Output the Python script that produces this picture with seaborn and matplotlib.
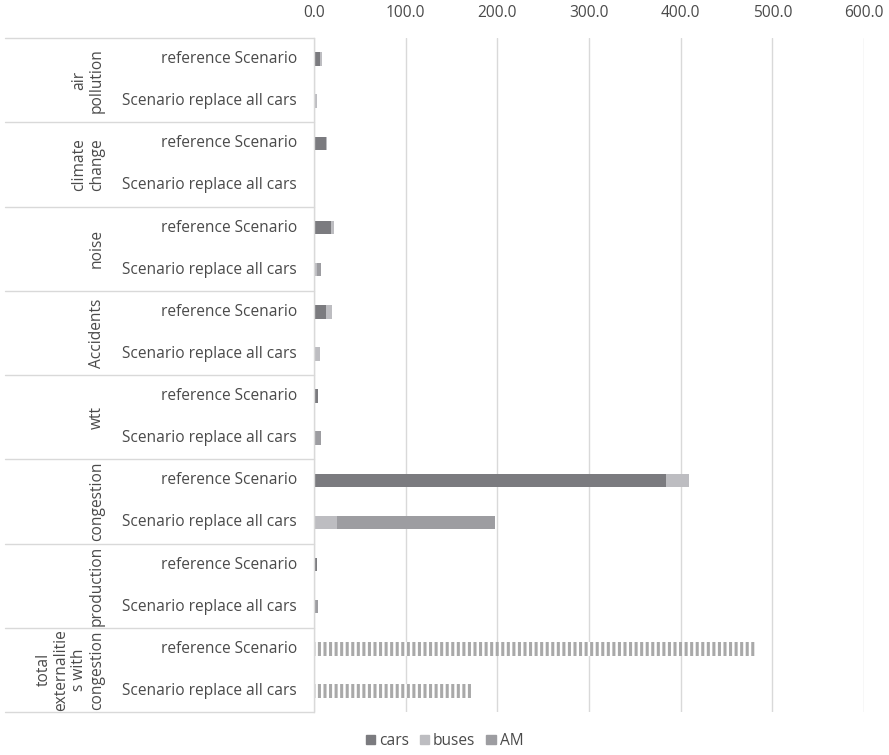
import matplotlib
matplotlib.use("Agg")
import matplotlib.pyplot as plt
import numpy as np
import pandas as pd
import seaborn as sns

# data
groups = ["air\npollution", "climate\nchange", "noise", "Accidents", "wtt",
          "congestion", "production", "total\nexternalitie\ns with\ncongestion"]
scenarios = ["reference Scenario", "Scenario replace all cars"]

cars_ref = [6.2, 12.7, 18.2, 12.7, 4.4, 383.5, 3.7, 0]
buses_ref = [2.5, 1.5, 3.6, 7.3, 0, 26.0, 0, 0]
am_ref = [0, 0, 0, 0, 0, 0, 0, 0]
cars_rep = [0, 0, 0, 0, 0, 0, 0, 0]
buses_rep = [3.7, 1.5, 3.0, 6.2, 0, 25.5, 0, 0]
am_rep = [0, 0, 4.3, 0, 8.0, 172.0, 4.8, 0]
total_ref = [0, 0, 0, 0, 0, 0, 0, 481.7]
total_rep = [0, 0, 0, 0, 0, 0, 0, 173.8]

x_ticks = [0, 100, 200, 300, 400, 500, 600]

c_cars = "#7b7b7f"
c_buses = "#bdbdc1"
c_am = "#9d9da1"
txt = "#4a4a4a"
grid = "#d9d9d9"


def build_frame():
    rows = []
    for i, g in enumerate(groups):
        for s, cars, buses, am, tot in [
            (scenarios[0], cars_ref[i], buses_ref[i], am_ref[i], total_ref[i]),
            (scenarios[1], cars_rep[i], buses_rep[i], am_rep[i], total_rep[i]),
        ]:
            rows.append({"key": f"{i}|{s}", "group": g, "scenario": s,
                         "cars": cars, "buses": buses, "AM": am, "total": tot})
    df = pd.DataFrame(rows)
    df["c1"] = df["cars"]
    df["c2"] = df["cars"] + df["buses"]
    df["c3"] = df["c2"] + df["AM"]
    return df


def main():
    df = build_frame()
    order = list(df["key"])

    sns.set_style("white")
    plt.rcParams["font.family"] = ["Open Sans", "DejaVu Sans"]
    fs = 11.2

    fig = plt.figure(figsize=(8.89, 7.55), dpi=100)
    W, H = 889, 755
    left, right, top, bottom = 314, 864, 38, 712
    ax = fig.add_axes([left / W, 1 - bottom / H, (right - left) / W, (bottom - top) / H])

    bw = 0.32
    # stacked by overlaying cumulative sums
    sns.barplot(data=df, y="key", x="c3", order=order, orient="h", color=c_am,
                width=bw, ax=ax, saturation=1, linewidth=0, label="AM")
    sns.barplot(data=df, y="key", x="c2", order=order, orient="h", color=c_buses,
                width=bw, ax=ax, saturation=1, linewidth=0, label="buses")
    sns.barplot(data=df, y="key", x="c1", order=order, orient="h", color=c_cars,
                width=bw, ax=ax, saturation=1, linewidth=0, label="cars")
    plt.rcParams["hatch.linewidth"] = 2.2
    sns.barplot(data=df, y="key", x="total", order=order, orient="h", color="white",
                width=bw, ax=ax, saturation=1, linewidth=0, edgecolor="#a9a9a9",
                hatch="|||")

    ax.set_xlim(0, 600)
    ax.set_ylim(len(order) - 0.5, -0.5)
    ax.set_xticks(x_ticks)
    ax.set_xticklabels([f"{v:.1f}" for v in x_ticks])
    ax.xaxis.tick_top()
    ax.tick_params(axis="x", length=0, pad=12, labelsize=fs, labelcolor=txt)
    ax.set_yticks([])
    ax.set_xlabel("")
    ax.set_ylabel("")
    ax.xaxis.grid(True, color=grid, linewidth=1)
    ax.set_axisbelow(True)
    for s in ["top", "right", "bottom"]:
        ax.spines[s].set_visible(False)
    ax.spines["left"].set_color(grid)
    ax.spines["left"].set_linewidth(1)
    if ax.get_legend():
        ax.get_legend().remove()

    # category labels
    ytr = ax.get_yaxis_transform()
    sx = lambda px: (px - left) / (right - left)
    for k, key in enumerate(order):
        ax.text(sx(297), k, df["scenario"].iloc[k], transform=ytr, ha="right",
                va="center", fontsize=fs, color=txt)
    for i, g in enumerate(groups):
        ax.text(sx(105), 2 * i + 0.5, g, transform=ytr, ha="right", va="center",
                rotation=90, multialignment="center", fontsize=fs, color=txt,
                linespacing=1.15)
    for b in np.arange(-0.5, len(order), 2):
        ax.plot([sx(5), 0], [b, b], transform=ytr, color=grid, linewidth=1,
                clip_on=False)

    handles = [plt.Rectangle((0, 0), 1, 1, color=c) for c in [c_cars, c_buses, c_am]]
    fig.legend(handles, ["cars", "buses", "AM"], loc="center", ncol=3,
               bbox_to_anchor=(0.5, 1 - 741 / H), frameon=False, fontsize=fs,
               labelcolor=txt, handlelength=0.6, handleheight=0.6,
               handletextpad=0.25, columnspacing=0.7)

    fig.savefig("out.png", dpi=100)


if __name__ == "__main__":
    main()
